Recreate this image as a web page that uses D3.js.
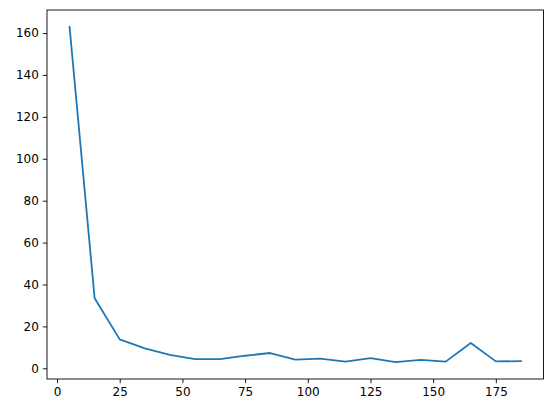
<!DOCTYPE html>
<html><head><meta charset="utf-8">
<script src="https://cdn.jsdelivr.net/npm/d3@7"></script>
<style>body{margin:0;background:#fff}svg{display:block}text{font-family:"DejaVu Sans",sans-serif}</style>
</head><body>
<script>
const xValues = [5,15,25,35,45,55,65,75,85,95,105,115,125,135,145,155,165,175,185];
const yValues = [163,33.4,13.8,9.5,6.4,4.4,4.4,6.0,7.3,4.1,4.6,3.2,4.9,2.9,4.0,3.2,12.1,3.3,3.4];
const xTicks = [0,25,50,75,100,125,150,175];
const yTicks = [0,20,40,60,80,100,120,140,160];

const W=552,H=413, L=47, R=543.5, T=10, B=379;
const svg=d3.select("body").append("svg").attr("width",W).attr("height",H);
const xmin=d3.min(xValues), xmax=d3.max(xValues), ymin=d3.min(yValues), ymax=d3.max(yValues);
const xm=(xmax-xmin)*0.05, ym=(ymax-ymin)*0.05;
const x=d3.scaleLinear().domain([xmin-xm,xmax+xm]).range([L,R]);
const y=d3.scaleLinear().domain([ymin-ym,ymax+ym]).range([B,T]);

const data=xValues.map((v,i)=>[v,yValues[i]]);
svg.append("path").datum(data).attr("fill","none").attr("stroke","#1f77b4")
  .attr("stroke-width",1.8).attr("stroke-linejoin","round").attr("stroke-linecap","square")
  .attr("d",d3.line().x(d=>x(d[0])).y(d=>y(d[1])));

const xa=svg.append("g").attr("transform",`translate(0,${B})`)
  .call(d3.axisBottom(x).tickValues(xTicks).tickSize(4.2).tickPadding(4).tickFormat(d3.format("d")));
const ya=svg.append("g").attr("transform",`translate(${L},0)`)
  .call(d3.axisLeft(y).tickValues(yTicks).tickSize(4.2).tickPadding(4).tickFormat(d3.format("d")));
[xa,ya].forEach(a=>{a.select(".domain").remove();a.selectAll("text").attr("font-size",12).attr("fill","#000").attr("font-family","DejaVu Sans");a.selectAll("line").attr("stroke","#000").attr("stroke-width",0.9);});
svg.append("rect").attr("x",L).attr("y",T).attr("width",R-L).attr("height",B-T)
  .attr("fill","none").attr("stroke","#000").attr("stroke-width",0.9);
</script>
</body></html>
